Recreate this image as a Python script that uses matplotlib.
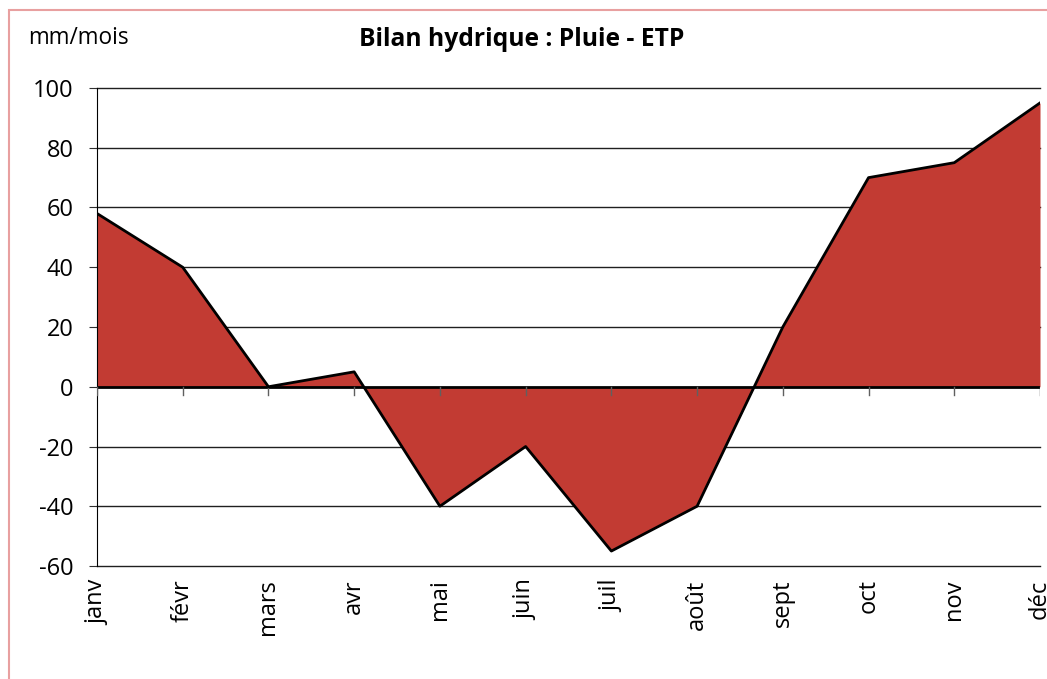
import matplotlib
matplotlib.use("Agg")
import matplotlib.pyplot as plt
from matplotlib.patches import Rectangle

# === Donnees ===
mois = ["janv", "févr", "mars", "avr", "mai", "juin",
        "juil", "août", "sept", "oct", "nov", "déc"]
bilan = [58, 40, 0, 5, -40, -20, -55, -40, 20, 70, 75, 95]
graduations = [-60, -40, -20, 0, 20, 40, 60, 80, 100]

plt.rcParams["font.family"] = ["Open Sans", "DejaVu Sans"]

W, H = 1047, 679
fig = plt.figure(figsize=(W / 100, H / 100), dpi=100)
ax = fig.add_axes([97 / W, 1 - 566 / H, (1040 - 97) / W, (566 - 88) / H])

x = list(range(len(mois)))
ax.fill_between(x, bilan, 0, color="#C23B33", linewidth=0, zorder=2)
ax.plot(x, bilan, color="black", linewidth=2, zorder=4)

ax.set_xlim(0, len(mois) - 1)
ax.set_ylim(-60, 100)
ax.set_yticks(graduations)
ax.set_yticklabels([str(v) for v in graduations], fontsize=17)
for v in graduations:
    if v != 0:
        ax.axhline(v, color="#202020", linewidth=1, zorder=1, clip_on=False)
ax.axhline(0, color="black", linewidth=2, zorder=3)

# axe des x a zero, etiquettes en bas
ax.set_xticks([])
for s in ["top", "right", "bottom"]:
    ax.spines[s].set_visible(False)
ax.spines["left"].set_color("black")
ax.tick_params(axis="y", length=6, color="#303030", pad=11)
for i, m in enumerate(mois):
    ax.plot([i, i], [0, -2.6], color="#606060", linewidth=1, zorder=3)
    ax.text(i, -64.5, m, rotation=90, ha="center", va="top", fontsize=17)

fig.text(522 / W, 1 - 40 / H, "Bilan hydrique : Pluie - ETP",
         ha="center", va="center", fontsize=17.7, fontweight="bold")
fig.text(28 / W, 1 - 38 / H, "mm/mois", ha="left", va="center", fontsize=16.3)

# cadre du graphique
fig.patches.append(Rectangle((9 / W, -0.1), 1.2, 1 - 10 / H + 0.1,
                             transform=fig.transFigure, fill=False,
                             edgecolor="#E8A0A0", linewidth=1.5))

fig.savefig("out.png", dpi=100)
